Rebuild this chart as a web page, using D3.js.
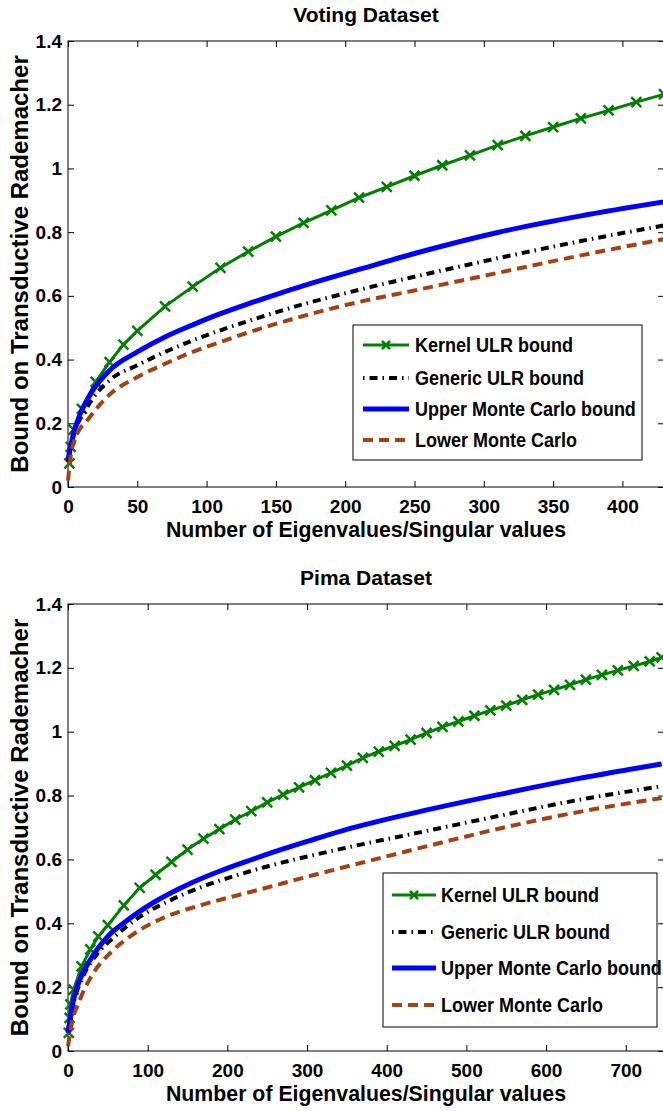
<!DOCTYPE html>
<html>
<head>
<meta charset="utf-8">
<script src="https://cdn.jsdelivr.net/npm/d3@7"></script>
<style>
  body { margin: 0; background: #fff; }
  text { font-family: "Liberation Sans", Arial, Helvetica, sans-serif; font-weight: bold; fill: #000; }
</style>
</head>
<body>
<svg id="chart" width="663" height="1111"></svg>
<script>
// ---- data ----
const seriesNames = ["Kernel ULR bound", "Generic ULR bound", "Upper Monte Carlo bound", "Lower Monte Carlo"];
const yTicks = [0, 0.2, 0.4, 0.6, 0.8, 1, 1.2, 1.4];

// Voting dataset
const votingXTicks = [0, 50, 100, 150, 200, 250, 300, 350, 400];
const votingKernelX = [1, 2, 4, 10, 20, 30, 40, 50, 70, 90, 110, 130, 150, 170, 190, 210, 230, 250, 270, 290, 310, 330, 350, 370, 390, 410, 430];
const votingKernelY = [0.074, 0.126, 0.18, 0.245, 0.33, 0.392, 0.447, 0.49, 0.567, 0.629, 0.688, 0.739, 0.786, 0.829, 0.868, 0.908, 0.942, 0.977, 1.010, 1.041, 1.073, 1.102, 1.130, 1.157, 1.182, 1.208, 1.233];
const votingUpperX = [0, 4, 9, 18, 30, 50, 70, 90, 110, 130, 150, 170, 190, 210, 250, 310, 370, 430];
const votingUpperY = [0.085, 0.168, 0.231, 0.304, 0.366, 0.424, 0.471, 0.509, 0.544, 0.575, 0.604, 0.632, 0.658, 0.683, 0.733, 0.799, 0.851, 0.895];
const votingGenericX = [0, 4, 13, 30, 50, 70, 90, 110, 130, 150, 170, 190, 210, 250, 310, 370, 430];
const votingGenericY = [0.08, 0.16, 0.244, 0.335, 0.382, 0.424, 0.46, 0.492, 0.521, 0.548, 0.574, 0.597, 0.619, 0.66, 0.718, 0.772, 0.821];
const votingLowerX = [0, 2, 5, 15, 30, 50, 70, 90, 110, 130, 150, 170, 190, 210, 250, 310, 370, 430];
const votingLowerY = [0.02, 0.1, 0.15, 0.215, 0.29, 0.345, 0.387, 0.424, 0.455, 0.485, 0.512, 0.537, 0.56, 0.581, 0.617, 0.672, 0.727, 0.778];

// Pima dataset
const pimaXTicks = [0, 100, 200, 300, 400, 500, 600, 700];
const pimaKernelX = [1, 2, 3, 7, 17, 28, 38, 50, 70, 90, 110, 130, 150, 170, 190, 210, 230, 250, 270, 290, 310, 330, 350, 370, 390, 410, 430, 450, 470, 490, 510, 530, 550, 570, 590, 610, 630, 650, 670, 690, 710, 730, 745];
const pimaKernelY = [0.057, 0.104, 0.146, 0.192, 0.265, 0.318, 0.359, 0.394, 0.456, 0.511, 0.552, 0.592, 0.631, 0.665, 0.695, 0.725, 0.751, 0.779, 0.803, 0.826, 0.848, 0.871, 0.894, 0.918, 0.938, 0.956, 0.975, 0.996, 1.015, 1.032, 1.050, 1.067, 1.082, 1.100, 1.116, 1.131, 1.147, 1.163, 1.178, 1.192, 1.206, 1.220, 1.233];
const pimaUpperX = [0, 7, 15, 28, 50, 70, 110, 150, 190, 230, 270, 310, 350, 440, 540, 640, 745];
const pimaUpperY = [0.057, 0.161, 0.224, 0.286, 0.359, 0.401, 0.469, 0.521, 0.563, 0.599, 0.633, 0.664, 0.694, 0.749, 0.803, 0.853, 0.899];
const pimaGenericX = [0, 5, 19, 36, 59, 90, 130, 170, 210, 250, 290, 330, 370, 440, 540, 640, 745];
const pimaGenericY = [0.06, 0.13, 0.234, 0.302, 0.359, 0.42, 0.474, 0.516, 0.549, 0.578, 0.603, 0.626, 0.648, 0.684, 0.736, 0.786, 0.829];
const pimaLowerX = [0, 5, 15, 32, 53, 78, 115, 170, 210, 250, 290, 330, 366, 442, 542, 642, 745];
const pimaLowerY = [0.015, 0.088, 0.161, 0.245, 0.307, 0.359, 0.412, 0.459, 0.486, 0.512, 0.539, 0.565, 0.588, 0.636, 0.697, 0.749, 0.792];

const svg = d3.select("#chart");

const styles = [
  { color: "#008000", width: 3, dash: null },
  { color: "#000000", width: 4, dash: "8,5,1.5,5" },
  { color: "#0000ff", width: 5, dash: null },
  { color: "#a5410f", width: 4, dash: "10,6" }
];

function drawPanel(cfg) {
  const g = svg.append("g");
  const x = d3.scaleLinear().domain(cfg.xDomain).range([68, 664]);
  const y = d3.scaleLinear().domain([0, 1.4]).range([cfg.bottom, cfg.top]);

  // title
  g.append("text")
    .attr("x", (68 + 664) / 2)
    .attr("y", cfg.top - 19)
    .attr("text-anchor", "middle")
    .style("font-size", "21px")
    .text(cfg.title);

  // axes, ticks point inward
  const fmt = (d) => String(+d.toFixed(1));
  g.append("g")
    .attr("transform", `translate(0,${cfg.bottom})`)
    .call(d3.axisBottom(x).tickValues(cfg.xTicks).tickSizeInner(-6).tickSizeOuter(0).tickPadding(13).tickFormat(fmt));
  g.append("g")
    .attr("transform", `translate(68,0)`)
    .call(d3.axisLeft(y).tickValues(yTicks).tickSizeInner(-6).tickSizeOuter(0).tickPadding(6).tickFormat(fmt));
  g.append("g")
    .attr("transform", `translate(0,${cfg.top})`)
    .call(d3.axisTop(x).tickValues(cfg.xTicks).tickSizeInner(-6).tickSizeOuter(0).tickFormat(""));
  g.append("g")
    .attr("transform", `translate(664,0)`)
    .call(d3.axisRight(y).tickValues(yTicks).tickSizeInner(-6).tickSizeOuter(0).tickFormat(""));
  g.selectAll(".domain").remove();
  g.selectAll(".tick line").attr("stroke", "#000");
  g.selectAll(".tick text")
    .style("font-size", "19px")
    .style("font-family", "'Liberation Sans', Arial, sans-serif")
    .style("font-weight", "bold");

  g.append("rect")
    .attr("x", 68).attr("y", cfg.top)
    .attr("width", 664 - 68).attr("height", cfg.bottom - cfg.top)
    .attr("fill", "none").attr("stroke", "#000").attr("stroke-width", 1);

  // axis labels
  g.append("text")
    .attr("x", (68 + 664) / 2)
    .attr("y", cfg.bottom + 50)
    .attr("text-anchor", "middle")
    .style("font-size", "21.3px")
    .text("Number of Eigenvalues/Singular values");
  g.append("text")
    .attr("transform", `translate(28,${(cfg.top + cfg.bottom) / 2}) rotate(-90)`)
    .attr("text-anchor", "middle")
    .style("font-size", "24px")
    .text("Bound on Transductive Rademacher");

  // curves
  const series = [
    cfg.kernelX.map((d, i) => [d, cfg.kernelY[i]]),
    cfg.genericX.map((d, i) => [d, cfg.genericY[i]]),
    cfg.upperX.map((d, i) => [d, cfg.upperY[i]]),
    cfg.lowerX.map((d, i) => [d, cfg.lowerY[i]])
  ];
  series.forEach((pts, i) => {
    const line = d3.line()
      .x((d) => x(d[0]))
      .y((d) => y(d[1]))
      .curve(i === 0 ? d3.curveLinear : d3.curveMonotoneX);
    g.append("path")
      .datum(pts)
      .attr("fill", "none")
      .attr("stroke", styles[i].color)
      .attr("stroke-width", styles[i].width)
      .attr("stroke-dasharray", styles[i].dash)
      .attr("d", line);
    if (i === 0) {
      g.selectAll(null)
        .data(pts)
        .join("path")
        .attr("transform", (d) => `translate(${x(d[0])},${y(d[1])})`)
        .attr("d", "M-5,-5L5,5M-5,5L5,-5")
        .attr("stroke", styles[0].color)
        .attr("stroke-width", 2.5);
    }
  });

  // legend
  const L = cfg.legend;
  g.append("rect")
    .attr("x", L.x0).attr("y", L.y0)
    .attr("width", L.x1 - L.x0).attr("height", L.y1 - L.y0)
    .attr("fill", "#fff").attr("stroke", "#000").attr("stroke-width", 1);
  seriesNames.forEach((name, i) => {
    const ry = L.rows[i];
    g.append("line")
      .attr("x1", L.s0).attr("x2", L.s1)
      .attr("y1", ry).attr("y2", ry)
      .attr("stroke", styles[i].color)
      .attr("stroke-width", styles[i].width)
      .attr("stroke-dasharray", i === 1 ? "1.5,5,8,5" : styles[i].dash);
    if (i === 0) {
      g.append("path")
        .attr("transform", `translate(${(L.s0 + L.s1) / 2},${ry})`)
        .attr("d", "M-4,-4L4,4M-4,4L4,-4")
        .attr("stroke", styles[0].color)
        .attr("stroke-width", 2.5);
    }
    g.append("text")
      .attr("transform", `translate(${L.tx},${ry}) scale(0.9,1)`)
      .attr("dy", "0.36em")
      .style("font-size", "20px")
      .text(name);
  });
}

drawPanel({
  title: "Voting Dataset",
  top: 41, bottom: 487,
  xDomain: [0, 430],
  xTicks: votingXTicks,
  kernelX: votingKernelX, kernelY: votingKernelY,
  genericX: votingGenericX, genericY: votingGenericY,
  upperX: votingUpperX, upperY: votingUpperY,
  lowerX: votingLowerX, lowerY: votingLowerY,
  legend: { x0: 353, x1: 642, y0: 325, y1: 460, rows: [345, 378, 409, 440], s0: 363, s1: 409, tx: 415 }
});

drawPanel({
  title: "Pima Dataset",
  top: 604, bottom: 1051,
  xDomain: [0, 748],
  xTicks: pimaXTicks,
  kernelX: pimaKernelX, kernelY: pimaKernelY,
  genericX: pimaGenericX, genericY: pimaGenericY,
  upperX: pimaUpperX, upperY: pimaUpperY,
  lowerX: pimaLowerX, lowerY: pimaLowerY,
  legend: { x0: 383, x1: 657, y0: 873, y1: 1027, rows: [895, 932, 968, 1005], s0: 392, s1: 436, tx: 441 }
});
</script>
</body>
</html>
